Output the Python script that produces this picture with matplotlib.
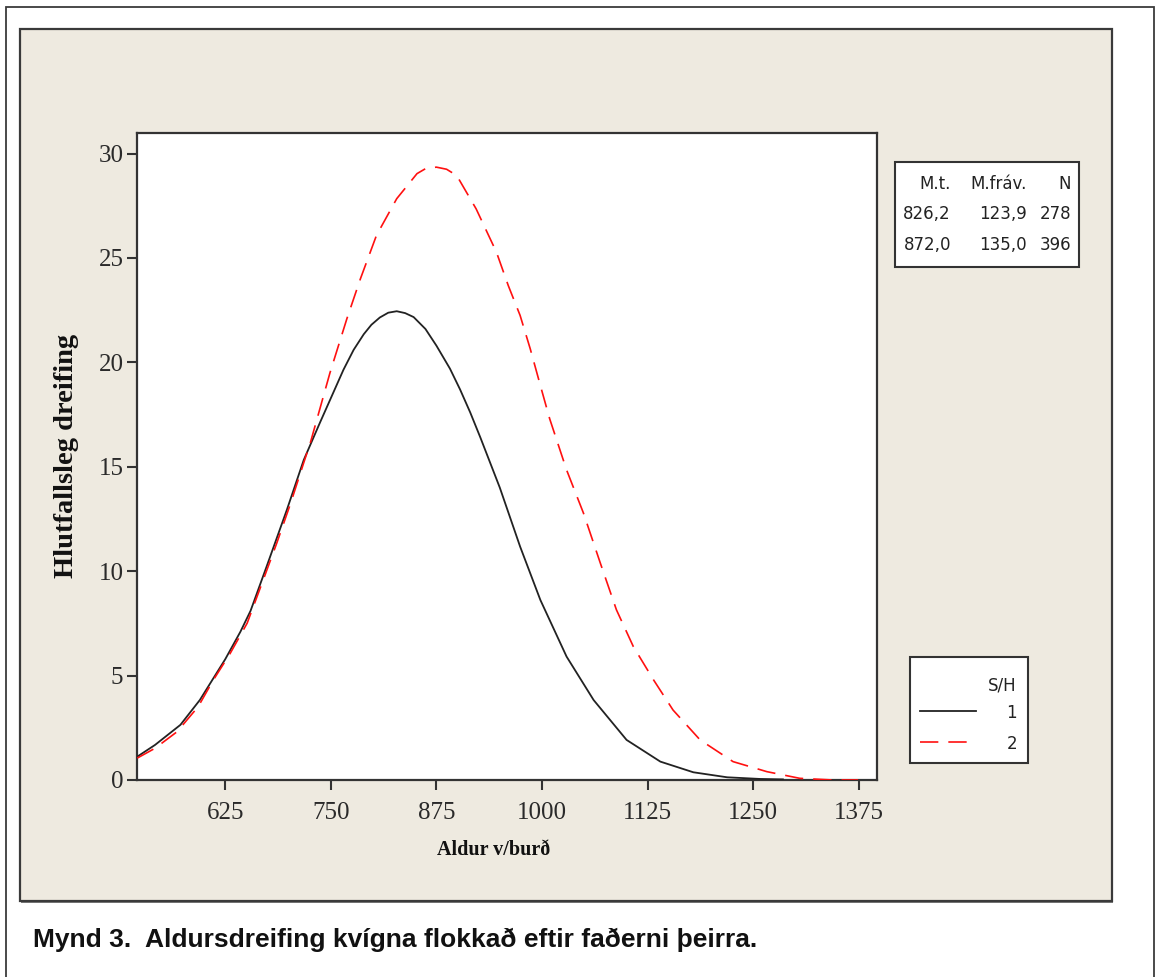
import matplotlib
matplotlib.use("Agg")
import matplotlib.pyplot as plt
from matplotlib.patches import Rectangle
from matplotlib.lines import Line2D

# values
black_x = [521, 542, 572, 595, 625, 643, 655, 674, 698, 718, 737, 765, 777, 789,
           798, 808, 818, 828, 838, 848, 862, 875, 891, 903, 915, 927, 950, 974,
           998, 1029, 1061, 1100, 1140, 1179, 1219, 1258, 1285]
black_y = [1.12, 1.68, 2.64, 3.83, 5.78, 7.1, 8.1, 10.22, 12.94, 15.33, 17.1,
           19.65, 20.6, 21.35, 21.8, 22.15, 22.38, 22.45, 22.36, 22.17, 21.6,
           20.8, 19.7, 18.7, 17.6, 16.4, 14.0, 11.18, 8.62, 5.91, 3.83, 1.92,
           0.88, 0.37, 0.13, 0.05, 0.03]

red_x = [521, 542, 568, 593, 611, 631, 651, 670, 686, 702, 718, 726, 749, 769,
         785, 804, 828, 852, 863, 875, 887, 899, 922, 946, 960, 974, 986, 998,
         1009, 1029, 1049, 1069, 1088, 1108, 1132, 1155, 1187, 1226, 1266, 1305,
         1344, 1374]
red_y = [1.05, 1.52, 2.31, 3.51, 4.79, 6.07, 7.51, 9.58, 11.34, 13.2, 15.2,
         16.18, 19.5, 22.09, 24.0, 26.08, 27.84, 29.04, 29.3, 29.35, 29.25,
         28.95, 27.35, 25.28, 23.68, 22.25, 20.65, 18.89, 17.3, 14.85, 12.78,
         10.38, 8.15, 6.39, 4.79, 3.35, 1.92, 0.88, 0.4, 0.08, 0.0, 0.0]

x_ticks = [625, 750, 875, 1000, 1125, 1250, 1375]
y_ticks = [0, 5, 10, 15, 20, 25, 30]

stat_header = ["M.t.", "M.fráv.", "N"]
stat_rows = [["826,2", "123,9", "278"],
             ["872,0", "135,0", "396"]]
groups = ["1", "2"]

W, H = 1160, 977
fig = plt.figure(figsize=(W / 100, H / 100), dpi=100)
fig.patch.set_facecolor("white")


def fx(px):
    return px / W


def fy(py):
    return 1 - py / H


# outer frame and beige panel (drawn below the axes)
fig.patches.append(Rectangle((fx(5.5), fy(990)), fx(1154 - 5.5), (990 - 6.7) / H,
                             transform=fig.transFigure, fill=False,
                             edgecolor="#3a3a3a", linewidth=1.3, zorder=-3))
fig.patches.append(Rectangle((fx(21), fy(903)), fx(1113 - 21), (903 - 31) / H,
                             transform=fig.transFigure, facecolor="#7a7a7a",
                             edgecolor="none", zorder=-3))
fig.patches.append(Rectangle((fx(19.5), fy(901)), fx(1112 - 19.5), (901 - 29) / H,
                             transform=fig.transFigure, facecolor="#EEEAE0",
                             edgecolor="#3a3a3a", linewidth=1.6, zorder=-2))

ax_l, ax_r, ax_t, ax_b = 137.3, 876.7, 132.7, 780
ax = fig.add_axes([fx(ax_l), fy(ax_b), fx(ax_r - ax_l), (ax_b - ax_t) / H])
ax.set_zorder(1)
ax.set_facecolor("white")
ax.plot(black_x, black_y, color="#222222", linewidth=1.3, zorder=3,
        solid_joinstyle="round")
ax.plot(red_x, red_y, color="#FF1010", linewidth=1.2,
        linestyle=(0, (11, 6)), zorder=3)

ax.set_xlim(521, 1396)
ax.set_ylim(0, 31)
ax.set_xticks(x_ticks)
ax.set_yticks(y_ticks)

serif = "Liberation Serif"
ax.set_xticklabels([str(v) for v in x_ticks], family=serif, fontsize=18,
                   color="#2a2a2a")
ax.set_yticklabels([str(v) for v in y_ticks], family=serif, fontsize=18,
                   color="#2a2a2a")
ax.tick_params(direction="out", length=7, width=1.5, color="#333333", pad=3)
ax.tick_params(axis="x", pad=9)
for side in ["top", "right", "bottom", "left"]:
    ax.spines[side].set_color("#333333")
    ax.spines[side].set_linewidth(1.6)

ax.set_xlabel("Aldur v/burð", family=serif, fontweight="bold", fontsize=14.5,
              color="#111111")
ax.xaxis.set_label_coords((494 - ax_l) / (ax_r - ax_l),
                          (ax_b - 840) / (ax_b - ax_t))
ax.set_ylabel("Hlutfallsleg dreifing", family=serif, fontweight="bold",
              fontsize=20.5, labelpad=14, color="#111111")

# stats table box
fig.patches.append(Rectangle((fx(895), fy(267)), fx(1079 - 895), (267 - 162) / H,
                             transform=fig.transFigure, facecolor="white",
                             edgecolor="#333333", linewidth=1.5, zorder=1))
col_right = [951, 1027, 1071]
row_y = [184, 214, 245]
sans = "DejaVu Sans"
for cx, txt in zip(col_right, stat_header):
    fig.text(fx(cx), fy(row_y[0]), txt, ha="right", va="center", family=sans,
             fontsize=12, color="#222222", zorder=2)
for ry, row in zip(row_y[1:], stat_rows):
    for cx, txt in zip(col_right, row):
        fig.text(fx(cx), fy(ry), txt, ha="right", va="center", family=sans,
                 fontsize=12, color="#222222", zorder=2)

# legend box
fig.patches.append(Rectangle((fx(910), fy(763)), fx(1028 - 910), (763 - 657) / H,
                             transform=fig.transFigure, facecolor="white",
                             edgecolor="#333333", linewidth=1.5, zorder=1))
fig.text(fx(1017), fy(685), "S/H", ha="right", va="center", family=sans,
         fontsize=12, color="#222222", zorder=2)
styles = [dict(color="#222222", linewidth=1.3, linestyle="-"),
          dict(color="#FF1010", linewidth=1.2, linestyle=(0, (11, 6)))]
for i, (lab, st) in enumerate(zip(groups, styles)):
    yy = 711 + i * 31
    fig.lines.append(Line2D([fx(920), fx(976)], [fy(yy), fy(yy)],
                            transform=fig.transFigure, zorder=2, **st))
    fig.text(fx(1017), fy(yy + 2), lab, ha="right", va="center", family=sans,
             fontsize=12, color="#222222", zorder=2)

fig.text(fx(33), fy(940), "Mynd 3.  Aldursdreifing kvígna flokkað eftir faðerni þeirra.",
         ha="left", va="center", family="Liberation Sans", fontweight="bold",
         fontsize=19, color="#111111")

fig.savefig("out.png", dpi=100, facecolor="white")
